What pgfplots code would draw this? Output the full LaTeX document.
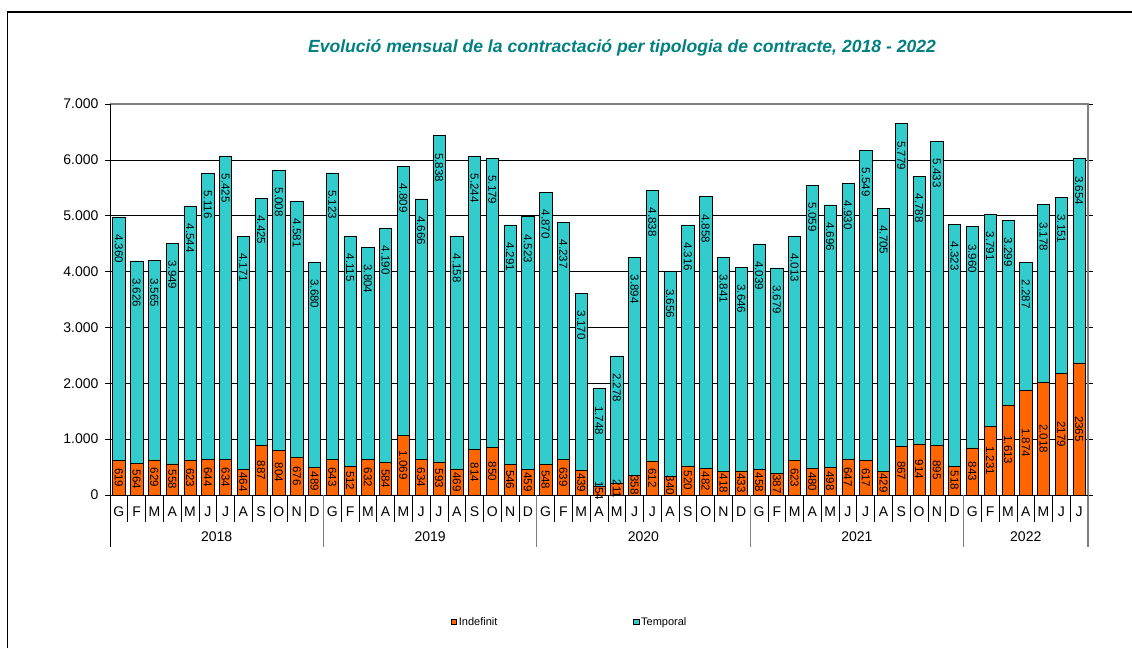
\documentclass[border=0pt]{standalone}
\usepackage{fontspec}
\setmainfont{Liberation Sans}
\usepackage{pgfplots}
\usepackage{pgfplotstable}
\pgfplotsset{compat=1.18}
\definecolor{cInd}{HTML}{FF6600}
\definecolor{cTemp}{HTML}{33CCCC}
\definecolor{cTitle}{HTML}{008080}
\definecolor{cGray}{HTML}{808080}

\pgfplotstableread{
x ind il temp tl
0 619 619 4360 4.360
1 564 564 3626 3.626
2 629 629 3565 3.565
3 558 558 3949 3.949
4 623 623 4544 4.544
5 644 644 5116 5.116
6 634 634 5425 5.425
7 464 464 4171 4.171
8 887 887 4425 4.425
9 804 804 5008 5.008
10 676 676 4581 4.581
11 489 489 3680 3.680
12 643 643 5123 5.123
13 512 512 4115 4.115
14 632 632 3804 3.804
15 584 584 4190 4.190
16 1069 1.069 4809 4.809
17 634 634 4666 4.666
18 593 593 5838 5.838
19 469 469 4158 4.158
20 814 814 5244 5.244
21 850 850 5179 5.179
22 546 546 4291 4.291
23 459 459 4523 4.523
24 548 548 4870 4.870
25 639 639 4237 4.237
26 439 439 3170 3.170
27 154 154 1748 1.748
28 211 211 2278 2.278
29 358 358 3894 3.894
30 612 612 4838 4.838
31 340 340 3656 3.656
32 520 520 4316 4.316
33 482 482 4858 4.858
34 418 418 3841 3.841
35 433 433 3646 3.646
36 458 458 4039 4.039
37 387 387 3679 3.679
38 623 623 4013 4.013
39 480 480 5059 5.059
40 498 498 4696 4.696
41 647 647 4930 4.930
42 617 617 5549 5.549
43 429 429 4705 4.705
44 867 867 5779 5.779
45 914 914 4788 4.788
46 895 895 5433 5.433
47 518 518 4323 4.323
48 843 843 3960 3.960
49 1231 1.231 3791 3.791
50 1613 1.613 3299 3.299
51 1874 1.874 2287 2.287
52 2018 2.018 3178 3.178
53 2179 2179 3151 3.151
54 2365 2365 3654 3.654
}\data

\pgfplotsset{
  sqlegend/.style={legend image code/.code={\draw[##1,line width=0.5pt] (0pt,-2.6pt) rectangle (5.2pt,2.6pt);}},
}

\begin{document}
\begin{tikzpicture}[x=1pt,y=1pt]
\useasboundingbox (0,0) rectangle (1132,648);
\draw[line width=1.6pt] (7.5,0) -- (7.5,636) -- (1132,636);
\node[font=\fontsize{17.6}{20}\selectfont\bfseries\itshape, text=cTitle] at (622,600)
  {Evolució mensual de la contractació per tipologia de contracte, 2018 - 2022};

\begin{axis}[
  at={(110pt,153pt)}, anchor=south west,
  width=978pt, height=391pt, scale only axis,
  xmin=-0.5, xmax=54.5, ymin=0, ymax=7000,
  ybar stacked, bar width=12.3pt,
  axis line style={draw=none},
  tick align=outside, major tick length=5pt,
  xtick={0,...,54},
  xticklabels={G,F,M,A,M,J,J,A,S,O,N,D,G,F,M,A,M,J,J,A,S,O,N,D,G,F,M,A,M,J,J,A,S,O,N,D,G,F,M,A,M,J,J,A,S,O,N,D,G,F,M,A,M,J,J},
  xtick style={draw=none},
  xticklabel style={yshift=-3pt},
  ytick={0,1000,...,7000},
  ytick style={black, line width=0.7pt},
  yticklabel style={xshift=-3pt},
  scaled y ticks=false,
  /pgf/number format/1000 sep={.},
  /pgf/number format/assume math mode=true,
  ticklabel style={font=\fontsize{14}{16}\selectfont},
  ymajorgrids, major grid style={black, line width=0.7pt},
  clip=false,
  legend columns=2,
  legend style={at={(axis description cs:0.3487,-0.3248)}, anchor=west, draw=none, fill=none,
    font=\fontsize{11}{13}\selectfont, inner sep=0pt,
    /tikz/every even column/.append style={column sep=134pt}},
]
\addplot[fill=cInd, draw=black, line width=0.6pt, sqlegend,
  nodes near coords, point meta=explicit symbolic,
  every node near coord/.append style={font=\fontsize{11.5}{12}\selectfont, text=black, inner sep=0pt,
    rotate=-90, anchor=center}]
  table[x=x, y=ind, meta=il]{\data};
\addlegendentry{Indefinit}
\addplot[fill=cTemp, draw=black, line width=0.6pt, sqlegend,
  nodes near coords, point meta=explicit symbolic,
  visualization depends on={\thisrow{temp}*0.027929 \as \hs},
  every node near coord/.append style={font=\fontsize{11.5}{12}\selectfont, text=black, inner sep=0pt,
    yshift={\hs*1pt-17pt}, rotate=-90, anchor=west}]
  table[x=x, y=temp, meta=tl]{\data};
\addlegendentry{Temporal}
\end{axis}

% frame of plot area and category boxes
\draw[cGray, line width=1.3pt] (110,544) -- (1088,544) -- (1088,101);
\draw[black, line width=0.8pt] (110,544) -- (110,101);
\draw[black, line width=0.8pt] (110,153) -- (1088,153);
\foreach \i in {1,...,11,13,14,...,23,25,26,...,35,37,38,...,47,49,50,...,54}
  \draw[black, line width=0.7pt] ({110+\i*17.781818},153) -- ++(0,-27);
\foreach \i in {12,24,36,48}
  \draw[cGray, line width=1.0pt] ({110+\i*17.781818},153) -- ++(0,-52);
\foreach \c/\y in {216.69/2018, 430.07/2019, 643.45/2020, 856.84/2021, 1025.76/2022}
  \node[font=\fontsize{14}{16}\selectfont] at (\c,111) {\y};
\end{tikzpicture}
\end{document}
